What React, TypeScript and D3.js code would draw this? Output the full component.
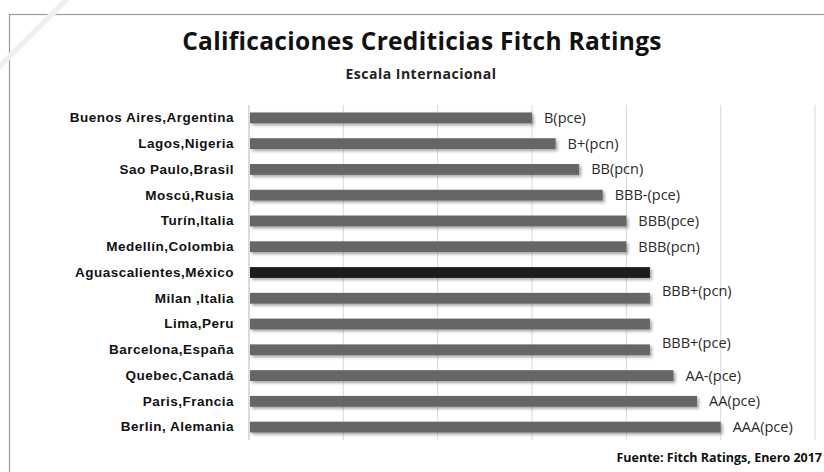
import { useEffect, useRef } from "react";
import * as d3 from "d3";

// ciudades, de arriba hacia abajo
const cities = [
  "Buenos Aires,Argentina",
  "Lagos,Nigeria",
  "Sao Paulo,Brasil",
  "Moscú,Rusia",
  "Turín,Italia",
  "Medellín,Colombia",
  "Aguascalientes,México",
  "Milan ,Italia",
  "Lima,Peru",
  "Barcelona,España",
  "Quebec,Canadá",
  "Paris,Francia",
  "Berlin, Alemania",
];

// escala numérica usada para el largo de la barra
const scores = [12, 13, 14, 15, 16, 16, 17, 17, 17, 17, 18, 19, 20];

const ratings = [
  "B(pce)",
  "B+(pcn)",
  "BB(pcn)",
  "BBB-(pce)",
  "BBB(pce)",
  "BBB(pcn)",
  "",
  "BBB+(pcn)",
  "",
  "BBB+(pce)",
  "AA-(pce)",
  "AA(pce)",
  "AAA(pce)",
];

const gridTicks = [0, 4, 8, 12, 16, 20, 24];

const highlight = "Aguascalientes,México";
const raised = new Set(["Milan ,Italia", "Barcelona,España"]);

export default function App() {
  const ref = useRef<SVGSVGElement>(null);

  useEffect(() => {
    const svg = d3.select(ref.current);
    svg.selectAll("*").remove();

    const width = 824, height = 472;
    const left = 249, right = 815, top = 105, bottom = 440;

    const defs = svg.append("defs");
    const f = defs.append("filter").attr("id", "shadow")
      .attr("x", "-5%").attr("y", "-50%").attr("width", "115%").attr("height", "250%");
    f.append("feDropShadow")
      .attr("dx", 2).attr("dy", 2).attr("stdDeviation", 1.5)
      .attr("flood-color", "#000").attr("flood-opacity", 0.35);

    svg.append("rect")
      .attr("width", width).attr("height", height).attr("fill", "#fff");

    // marco del gráfico
    svg.append("rect")
      .attr("x", 9.5).attr("y", 14.5)
      .attr("width", 830).attr("height", 480)
      .attr("fill", "none").attr("stroke", "#9a9a9a").attr("stroke-width", 1.2);

    // marca de agua tenue
    svg.append("path")
      .attr("d", "M0,62 L62,0 L70,0 L0,70 Z")
      .attr("fill", "#f0f0f0");

    const x = d3.scaleLinear().domain([0, 24]).range([left, right]);
    const y = d3.scaleBand().domain(cities).range([top, bottom]).paddingInner(0.58).paddingOuter(0.29);

    svg.append("g")
      .selectAll("line")
      .data(gridTicks)
      .join("line")
        .attr("x1", d => x(d)).attr("x2", d => x(d))
        .attr("y1", top).attr("y2", bottom)
        .attr("stroke", d => d === 0 ? "#cfcfcf" : "#d9d9d9")
        .attr("stroke-width", d => d === 0 ? 1.5 : 1);

    const data = cities.map((c, i) => ({ city: c, score: scores[i], rating: ratings[i] }));

    svg.append("g")
      .selectAll("rect")
      .data(data)
      .join("rect")
        .attr("x", x(0) + 1)
        .attr("y", d => y(d.city)!)
        .attr("width", d => x(d.score) - x(0) - 1)
        .attr("height", y.bandwidth())
        .attr("fill", d => d.city === highlight ? "#1c1c1c" : "#666666")
        .attr("filter", "url(#shadow)");

    svg.append("g")
      .selectAll("text")
      .data(data.filter(d => d.rating))
      .join("text")
        .attr("x", d => x(d.score) + 12)
        .attr("y", d => y(d.city)! + y.bandwidth() / 2 - (raised.has(d.city) ? y.step() * 0.27 : 0))
        .attr("dy", "0.35em")
        .attr("font-family", "'Open Sans', Lato, sans-serif")
        .attr("font-size", 14.5)
        .attr("fill", "#2a2a2a")
        .text(d => d.rating);

    svg.append("g")
      .call(d3.axisLeft(y).tickSize(0).tickPadding(15))
      .call(g => g.select(".domain").remove())
      .attr("transform", `translate(${left},0)`)
      .selectAll("text")
        .attr("font-family", "'Liberation Sans', Arial, sans-serif")
        .attr("font-weight", "bold")
        .attr("font-size", 13.5)
        .attr("letter-spacing", 0.5)
        .attr("fill", "#111");

    svg.append("text")
      .attr("x", 422).attr("y", 50)
      .attr("text-anchor", "middle")
      .attr("font-family", "'Open Sans', Lato, sans-serif")
      .attr("font-weight", "bold")
      .attr("font-size", 24.5)
      .attr("letter-spacing", 0.3)
      .attr("fill", "#111")
      .text("Calificaciones Crediticias Fitch Ratings");

    svg.append("text")
      .attr("x", 421).attr("y", 79)
      .attr("text-anchor", "middle")
      .attr("font-family", "'Open Sans', Lato, sans-serif")
      .attr("font-weight", "bold")
      .attr("font-size", 14)
      .attr("letter-spacing", 0.5)
      .attr("fill", "#222")
      .text("Escala Internacional");

    svg.append("text")
      .attr("x", 822).attr("y", 462)
      .attr("text-anchor", "end")
      .attr("font-family", "'Open Sans', Lato, sans-serif")
      .attr("font-weight", "bold")
      .attr("font-size", 12.5)
      .attr("fill", "#111")
      .text("Fuente: Fitch Ratings, Enero 2017");
  }, []);

  return (
    <svg ref={ref} width={824} height={472}
      style={{ position: "absolute", left: 0, top: 0, display: "block" }} />
  );
}
